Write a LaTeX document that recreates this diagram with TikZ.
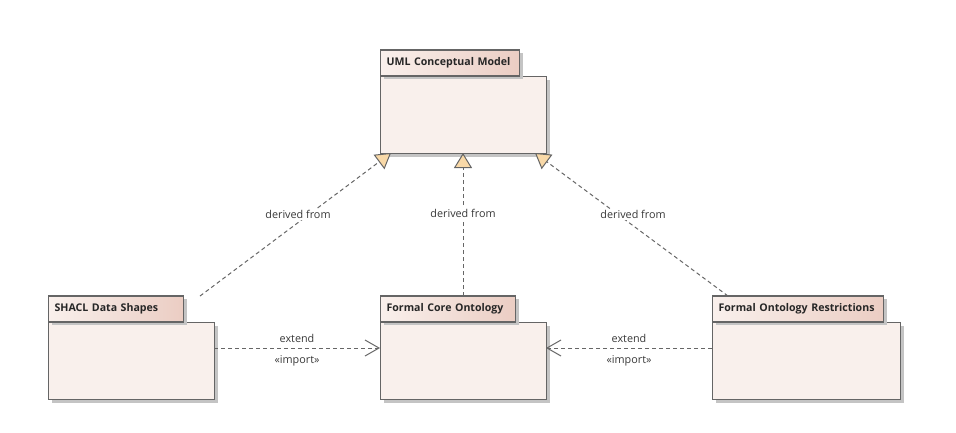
\documentclass[tikz,border=0pt]{standalone}
\usepackage{fontspec}
\setmainfont{Open Sans}
\usetikzlibrary{arrows.meta,calc,shadows}
\definecolor{bodyfill}{HTML}{F9F0EC}
\definecolor{tabdark}{HTML}{EBCDC3}
\definecolor{bordercol}{HTML}{656565}
\definecolor{shadowcol}{HTML}{C4C4C4}
\definecolor{linecol}{HTML}{666666}
\definecolor{trifill}{HTML}{F9D9A8}
\tikzset{
  pkgbody/.style={draw=bordercol, line width=1.2pt, fill=bodyfill, inner sep=0pt,
    anchor=north west, minimum width=#1, minimum height=77pt,
    drop shadow={shadow xshift=3pt, shadow yshift=-3pt, fill=shadowcol, opacity=1}},
  pkgtab/.style={draw=bordercol, line width=1.2pt, left color=bodyfill, right color=tabdark,
    inner sep=0pt, anchor=south west, minimum width=#1, minimum height=26pt,
    text width=#1-12pt, align=left, font=\bfseries\fontsize{10.6}{12}\selectfont, text=black!85,
    drop shadow={shadow xshift=3pt, shadow yshift=-3pt, fill=shadowcol, opacity=1}},
  conn/.style={draw=linecol, line width=1pt, dash pattern=on 4pt off 3pt},
  derive/.style={conn, -{Triangle[width=18pt,length=15pt,fill=trifill,color=bordercol,line width=1pt]}},
  importarr/.style={conn, -{Straight Barb[length=14pt,width=16pt,color=linecol,line width=1pt]}},
  lbl/.style={font=\fontsize{10.8}{12}\selectfont, text=black!78, inner sep=1pt}
}
\begin{document}
\begin{tikzpicture}[x=1pt,y=-1pt]
\useasboundingbox (0,0) rectangle (956,432);
% packages: tab first (shadow behind body), then body
\node[pkgtab=139pt] (umltab) at (380,76.5) {UML Conceptual Model};
\node[pkgbody=166pt] (uml) at (380,76) {};
\node[pkgtab=135pt] (shacltab) at (48,322.5) {SHACL Data Shapes};
\node[pkgbody=166pt] (shacl) at (48,322) {};
\node[pkgtab=135pt] (coretab) at (380,322.5) {Formal Core Ontology};
\node[pkgbody=166pt] (core) at (380,322) {};
\node[pkgtab=171pt] (restab) at (712,322.5) {Formal Ontology Restrictions};
\node[pkgbody=188pt] (res) at (712,322) {};
% redraw tabs above body shadow
\node[pkgtab=139pt, drop shadow={opacity=0}] at (380,76.5) {UML Conceptual Model};
\node[pkgtab=135pt, drop shadow={opacity=0}] at (48,322.5) {SHACL Data Shapes};
\node[pkgtab=135pt, drop shadow={opacity=0}] at (380,322.5) {Formal Core Ontology};
\node[pkgtab=171pt, drop shadow={opacity=0}] at (712,322.5) {Formal Ontology Restrictions};
% connector end points
\coordinate (shaclTop) at (200,296);
\coordinate (resTop) at (728,296);
\coordinate (coreTop) at (463,296);
\coordinate (umlL) at (391,153);
\coordinate (umlM) at (463,153);
\coordinate (umlR) at (535,153);
\coordinate (shaclR) at (214,348);
\coordinate (coreL) at (380,348);
\coordinate (coreR) at (546,348);
\coordinate (resL) at (712,348);
% derived from
\draw[derive] (shaclTop) -- node[lbl, fill=white, pos=0.513, yshift=8pt] {derived from} (umlL);
\draw[derive] (coreTop) -- node[lbl, fill=white, pos=0.576] {derived from} (umlM);
\draw[derive] (resTop) -- node[lbl, fill=white, pos=0.492, yshift=11pt] {derived from} (umlR);
% import
\draw[importarr] (shaclR) -- node[lbl, above=4pt] {extend} node[lbl, below=6pt] {«import»} (coreL);
\draw[importarr] (resL) -- node[lbl, above=4pt] {extend} node[lbl, below=6pt] {«import»} (coreR);
\end{tikzpicture}
\end{document}
